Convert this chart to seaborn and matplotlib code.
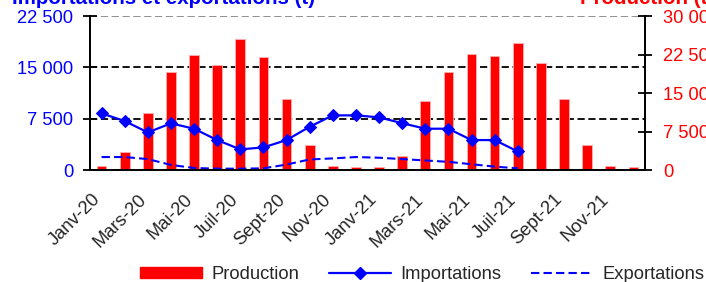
import numpy as np
import pandas as pd
import matplotlib
matplotlib.use('Agg')
import matplotlib.pyplot as plt
import matplotlib.transforms as mtransforms
from matplotlib.ticker import FuncFormatter, FixedLocator, NullFormatter
from matplotlib.lines import Line2D
from matplotlib.patches import Patch
import seaborn as sns

# Data (tonnes), Jan 2020 -> Dec 2021
months = ['Janv-20', 'Févr-20', 'Mars-20', 'Avr-20', 'Mai-20', 'Juin-20',
          'Juil-20', 'Août-20', 'Sept-20', 'Oct-20', 'Nov-20', 'Déc-20',
          'Janv-21', 'Févr-21', 'Mars-21', 'Avr-21', 'Mai-21', 'Juin-21',
          'Juil-21', 'Août-21', 'Sept-21', 'Oct-21', 'Nov-21', 'Déc-21']
production = [800, 3450, 11150, 19050, 22350, 20450, 25600, 21950, 13750, 4850, 850, 500,
              500, 2700, 13450, 19050, 22650, 22250, 24850, 20800, 13750, 4850, 850, 500]
importations = [8280, 7160, 5500, 6820, 6040, 4380, 3020, 3310, 4380, 6330, 7990, 7990,
                7700, 6850, 6040, 6040, 4380, 4380, 2720] + [np.nan] * 5
exportations = [1900, 1900, 1600, 750, 300, 200, 200, 250, 800, 1550, 1700, 1900,
                1800, 1600, 1400, 1200, 850, 500, 250] + [np.nan] * 5

df = pd.DataFrame({'mois': months, 'idx': np.arange(len(months)),
                   'production': production, 'importations': importations,
                   'exportations': exportations})

sns.set_style("white")
plt.rcParams['font.family'] = ['Liberation Sans', 'DejaVu Sans']

BLUE = '#0000FF'
RED = '#FF0000'
FS = 13.2

fig = plt.figure(figsize=(7.06, 2.82), dpi=100)
ax2 = fig.add_axes([0.1275, 0.397, 0.786, 0.546])   # production (right axis)
ax = ax2.twinx()                                     # imports / exports (left axis)
ax.yaxis.tick_left()
ax2.yaxis.tick_right()
ax.set_zorder(ax2.get_zorder() + 1)
ax.patch.set_visible(False)

# gridlines sit behind the bars
for v, c in [(10000, 'black'), (20000, 'black'), (30000, '#888888')]:
    ax2.axhline(v, color=c, lw=1.3, ls=(0, (4, 2)), zorder=0)

sns.barplot(data=df, x='idx', y='production', ax=ax2, color=RED, width=0.42,
            saturation=1, edgecolor='#ffb0b0', linewidth=0.6, zorder=2)
sns.lineplot(data=df, x='idx', y='importations', ax=ax, color=BLUE, lw=1.6,
             marker='D', markersize=6.5, markeredgecolor=BLUE)
sns.lineplot(data=df, x='idx', y='exportations', ax=ax, color=BLUE, lw=1.5,
             linestyle=(0, (4, 2)))

ax.set_ylim(0, 22500)
ax2.set_ylim(0, 30000)
fmt = FuncFormatter(lambda v, p: f'{int(v):,}'.replace(',', ' '))
ax.set_yticks([0, 7500, 15000, 22500])
ax2.set_yticks([0, 7500, 15000, 22500, 30000])
ax.yaxis.set_major_formatter(fmt)
ax2.yaxis.set_major_formatter(fmt)
ax.tick_params(axis='y', colors='black', labelcolor=BLUE, labelsize=FS,
               direction='inout', length=10, width=1.3, pad=7)
ax2.tick_params(axis='y', colors='black', labelcolor=RED, labelsize=FS,
                direction='inout', length=10, width=1.3, pad=8)

# x axis: marks at the category boundaries, month labels every 2 months
ax2.xaxis.set_major_locator(FixedLocator(np.arange(-0.5, 24, 1)))
ax2.xaxis.set_major_formatter(NullFormatter())
ax2.tick_params(axis='x', which='major', direction='inout', length=10, width=1.3)
ax2.set_xlim(-0.5, 23.5)
ax.set_xlim(-0.5, 23.5)

lab_trans = ax2.get_xaxis_transform() + mtransforms.ScaledTranslation(
    -0.04, -0.27, fig.dpi_scale_trans)
for i in range(0, len(months), 2):
    ax2.text(i, 0, months[i], transform=lab_trans, rotation=45,
             rotation_mode='anchor', ha='right', va='center',
             fontsize=FS, clip_on=False)

for a in (ax, ax2):
    a.set_xlabel('')
    a.set_ylabel('')
    for s in a.spines.values():
        s.set_linewidth(1.3)
        s.set_color('black')
    a.spines['top'].set_visible(False)

# titles (mostly cut by the figure edge, as in the source)
fig.text(12 / 706, 1 - 4 / 282, 'Importations et exportations (t)', color=BLUE,
         fontsize=14.8, fontweight='bold', ha='left', va='baseline')
fig.text(580 / 706, 1 - 4 / 282, 'Production (t)', color=RED,
         fontsize=14.8, fontweight='bold', ha='left', va='baseline')

handles = [Patch(facecolor=RED, edgecolor=RED),
           Line2D([], [], color=BLUE, lw=1.6, marker='D', markersize=6.5),
           Line2D([], [], color=BLUE, lw=1.5, ls=(0, (4, 2)))]
fig.legend(handles, ['Production', 'Importations', 'Exportations'],
           loc='lower left', bbox_to_anchor=(131 / 706, -0.036), ncol=3,
           frameon=False, fontsize=13.2, handlelength=3.4, handleheight=0.5,
           columnspacing=1.6, handletextpad=0.5, borderpad=0)

fig.savefig('out.png', dpi=100)
